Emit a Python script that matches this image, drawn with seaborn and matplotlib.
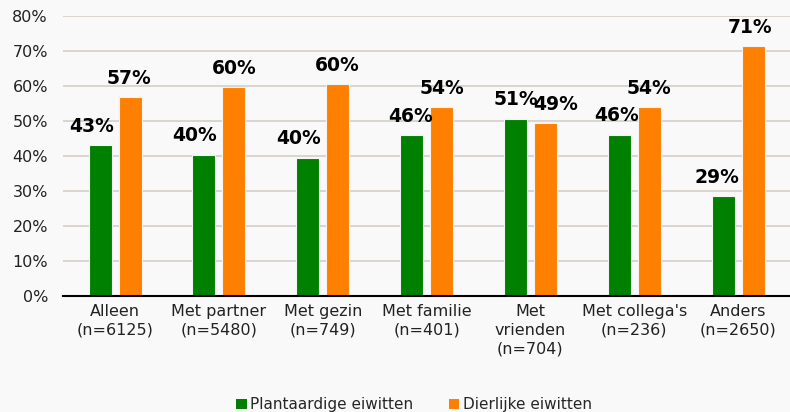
import matplotlib
matplotlib.use("Agg")
import matplotlib.pyplot as plt
import pandas as pd
import seaborn as sns
from matplotlib.patches import Patch

categories = ["Alleen\n(n=6125)", "Met partner\n(n=5480)", "Met gezin\n(n=749)",
              "Met familie\n(n=401)", "Met\nvrienden\n(n=704)", "Met collega's\n(n=236)",
              "Anders\n(n=2650)"]
plant = [43.1, 40.4, 39.5, 46.0, 50.7, 46.1, 28.6]
dier = [56.9, 59.6, 60.5, 54.0, 49.3, 53.9, 71.4]
series = ["Plantaardige eiwitten", "Dierlijke eiwitten"]
colors = ["#008000", "#ff7f00"]
bg = "#f9f9f9"

# horizontal nudges of the data labels (pixels), as placed in the original
nudge = [[-9, -9, -9, -1, 0, -3, -6], [-1, 0, 0, 0, 10, 0, -3]]

df = pd.DataFrame({
    "cat": categories * 2,
    "val": plant + dier,
    "serie": [series[0]] * 7 + [series[1]] * 7,
})

sns.set_style("white")
plt.rcParams["font.family"] = ["DejaVu Sans"]

fig = plt.figure(figsize=(7.9, 4.12), dpi=100, facecolor=bg)
ax = fig.add_axes([0.08, 0.282, 0.92, 0.679], facecolor=bg)

sns.barplot(data=df, x="cat", y="val", hue="serie", palette=colors, ax=ax,
            width=0.577, gap=0.233, edgecolor="#f4f4f4", linewidth=0.8,
            saturation=1, legend=False, zorder=3)

ax.set_ylim(0, 80)
ax.set_xlim(-0.5, 6.5)
ax.set_yticks(range(0, 81, 10))
ax.set_yticklabels([f"{v}%" for v in range(0, 81, 10)])
ax.yaxis.grid(True, color="#d4cfc6", linewidth=1.2, zorder=0)
ax.set_axisbelow(True)
for s in ["top", "right", "left"]:
    ax.spines[s].set_visible(False)
ax.spines["bottom"].set_color("black")
ax.spines["bottom"].set_linewidth(1.5)
ax.spines["bottom"].set_zorder(4)
ax.tick_params(axis="y", length=0, pad=11, labelsize=11.5, labelcolor="#222222")
ax.tick_params(axis="x", length=0, pad=6, labelsize=11.5, labelcolor="#222222")
for lab in ax.get_xticklabels():
    lab.set_linespacing(1.3)
ax.set_xlabel("")
ax.set_ylabel("")

# data labels
for i, container in enumerate(ax.containers):
    for j, bar in enumerate(container):
        h = bar.get_height()
        ax.annotate(f"{h:.0f}%", (bar.get_x() + bar.get_width() / 2, h),
                    xytext=(nudge[i][j] * 0.72, 13.5), textcoords="offset points",
                    ha="center", va="center", fontsize=13.5, fontweight="bold",
                    color="black")

handles = [Patch(facecolor=c, edgecolor="none") for c in colors]
fig.legend(handles, series, loc="center", bbox_to_anchor=(0.524, 0.017), ncol=2,
           frameon=False, fontsize=11, handlelength=0.7, handleheight=0.7,
           handletextpad=0.25, columnspacing=2.3)

fig.savefig("out.png", dpi=100, facecolor=bg)
